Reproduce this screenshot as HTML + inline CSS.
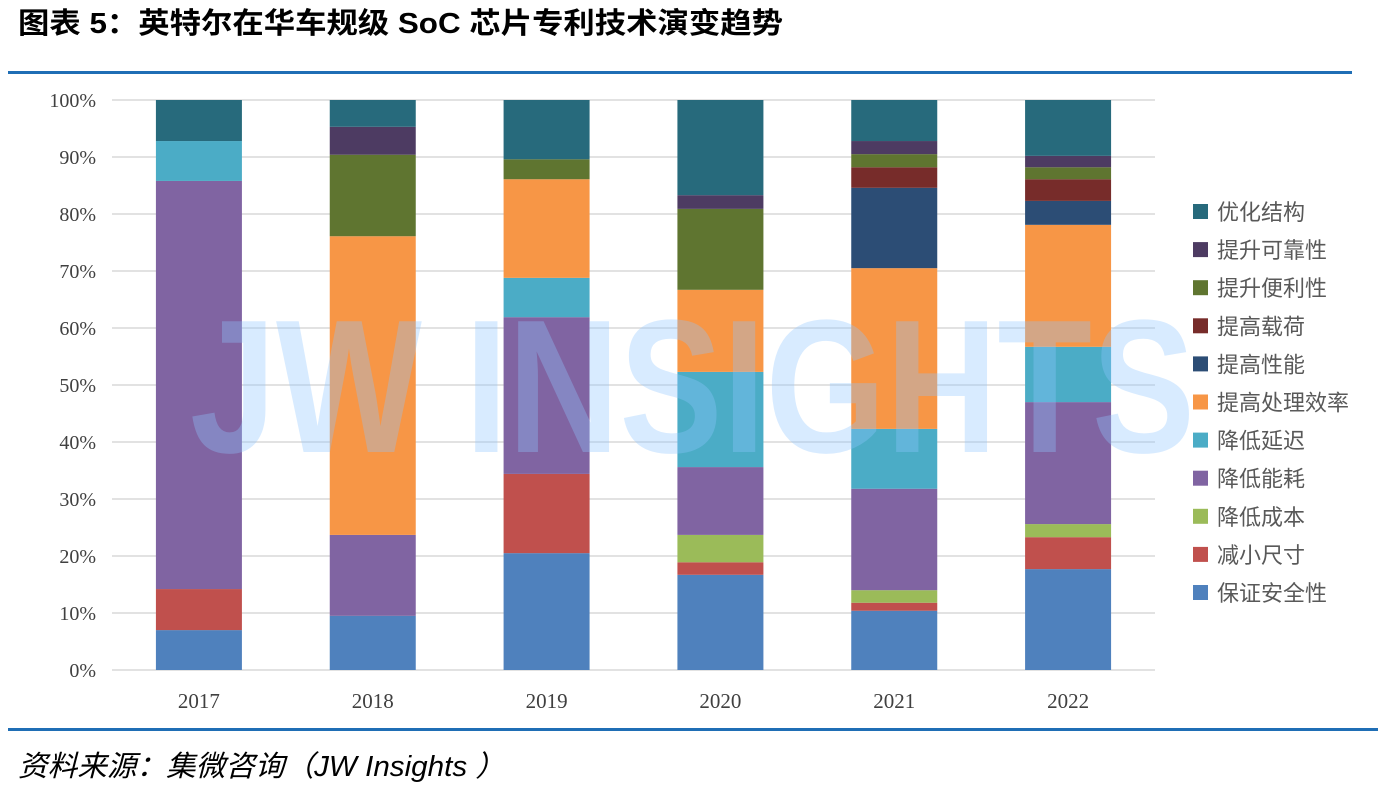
<!DOCTYPE html>
<html><head><meta charset="utf-8"><style>
body{margin:0;background:#fff;width:1381px;height:789px;overflow:hidden;font-family:"Liberation Sans","Noto Sans CJK SC",sans-serif}
</style></head><body>
<svg width="1381" height="789" xmlns="http://www.w3.org/2000/svg" id="chart">
<text x="18" y="33" font-size="29" font-weight="bold" fill="#000" textLength="765" lengthAdjust="spacingAndGlyphs" font-family="Liberation Sans,Noto Sans CJK SC,sans-serif">图表 5：英特尔在华车规级 SoC 芯片专利技术演变趋势</text>
<rect x="8" y="71" width="1344" height="3" fill="#1F6EB5"/>
<rect x="8" y="728" width="1370" height="3" fill="#1F6EB5"/>
<text x="18" y="776" font-size="29" font-style="italic" fill="#000" textLength="487" lengthAdjust="spacingAndGlyphs" font-family="Liberation Sans,Noto Sans CJK SC,sans-serif">资料来源：集微咨询（JW Insights ）</text>
<g id="grid"></g><g id="bars"></g><g id="axes"></g><g id="legend"></g>
<text x="190" y="452" font-size="190" font-weight="bold" fill="#8ec5ff" fill-opacity="0.35" textLength="1005" lengthAdjust="spacingAndGlyphs" font-family="Liberation Sans,sans-serif">JW INSIGHTS</text>
</svg>
<script>
const years=["2017","2018","2019","2020","2021","2022"];
const seriesNames=["保证安全性","减小尺寸","降低成本","降低能耗","降低延迟","提高处理效率","提高性能","提高载荷","提升便利性","提升可靠性","优化结构"];
const colors=["#4F81BD","#C0504D","#9BBB59","#8064A2","#4BACC6","#F79646","#2C4D75","#772C2A","#5F7530","#4D3B62","#276A7C"];
const safety=[7.0,9.5,20.5,16.7,10.4,17.7];
const size=[7.2,0,13.9,2.2,1.4,5.6];
const cost=[0,0,0,4.8,2.2,2.3];
const energy=[71.6,14.2,27.5,11.9,17.8,21.4];
const latency=[7.0,0,6.9,16.7,10.5,9.7];
const efficiency=[0,52.4,17.3,14.4,28.2,21.4];
const performance=[0,0,0,0,14.1,4.2];
const load=[0,0,0,0,3.6,3.8];
const convenience=[0,14.3,3.5,14.2,2.3,2.1];
const reliability=[0,4.9,0,2.4,2.3,2.0];
const structure=[7.2,4.7,10.4,16.7,7.2,9.8];
const series=[safety,size,cost,energy,latency,efficiency,performance,load,convenience,reliability,structure];
const yTicks=[0,10,20,30,40,50,60,70,80,90,100];
const NS="http://www.w3.org/2000/svg";
const x0=112,x1=1155,yB=670,yT=100;
const y=v=>yB-(v/100)*(yB-yT);
const band=(x1-x0)/years.length;
const xc=i=>x0+band*(i+0.5);
function mk(t,a,p){const e=document.createElementNS(NS,t);for(const k in a)e.setAttribute(k,a[k]);p.appendChild(e);return e;}
const grid=document.getElementById('grid'),axes=document.getElementById('axes'),bars=document.getElementById('bars'),leg=document.getElementById('legend');
yTicks.forEach(t=>{
 const l=mk('line',{x1:x0,x2:x1,y1:y(t),y2:y(t),stroke:'#d9d9d9','stroke-width':1.5},grid);
 
 
 const tx=mk('text',{x:96,y:y(t)+7,'text-anchor':'end','font-size':20,fill:'#404040','font-family':'Liberation Serif,serif'},axes);
 tx.textContent=t+'%';
 
 
});
years.forEach((yr,i)=>{
 let cum=0;
 series.forEach((s,k)=>{
  const v=s[i]; if(v<=0)return;
  const r=mk('rect',{x:xc(i)-43,width:86,y:y(cum+v),height:y(cum)-y(cum+v),fill:colors[k]},bars);
  
  
  cum+=v;
 });
 const tx=mk('text',{x:xc(i),y:708,'text-anchor':'middle','font-size':21,fill:'#404040','font-family':'Liberation Serif,serif'},axes);
 tx.textContent=yr;
 
 
});
for(let k=seriesNames.length-1,j=0;k>=0;k--,j++){
 const yy=212+j*38.1;
 const g=mk('g',{},leg);
 
 
 mk('rect',{x:1193,y:yy-8,width:15,height:15,fill:colors[k]},g);
 const t=mk('text',{x:1217,y:yy+8,'font-size':22,fill:'#595959','font-family':'Liberation Sans,Noto Sans CJK SC,sans-serif'},g);
 t.textContent=seriesNames[k];
}
</script>
</body></html>
